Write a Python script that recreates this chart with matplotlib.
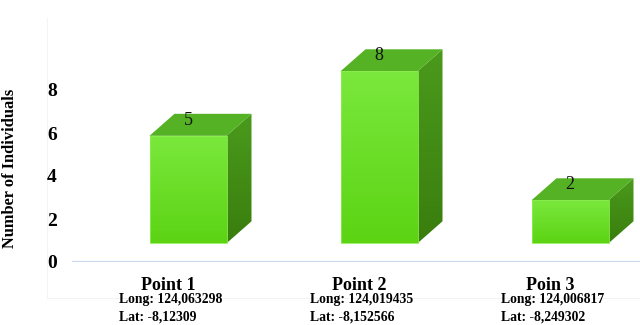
import numpy as np
import matplotlib
matplotlib.use("Agg")
import matplotlib.pyplot as plt
from matplotlib.patches import Polygon
from matplotlib.transforms import blended_transform_factory

categories = ["Point 1", "Point 2", "Poin 3"]
longs = ["Long: 124,063298", "Long: 124,019435", "Long: 124,006817"]
lats = ["Lat: -8,12309", "Lat: -8,152566", "Lat: -8,249302"]
values = [5, 8, 2]
yticks = [0, 2, 4, 6, 8]

W, H = 640, 325
fig = plt.figure(figsize=(6.4, 3.25), dpi=100)
ax_left, ax_right = 72 / W, 1.0
ax_bot, ax_top = 1 - 262 / H, 1 - 18 / H
ax = fig.add_axes([ax_left, ax_bot, ax_right - ax_left, ax_top - ax_bot])

px_per_unit = 21.5
spacing = 191.0
ax.set_xlim((72 - 168) / spacing, (640 - 168) / spacing)
ax.set_ylim(0, 244 / px_per_unit)

serif = "Liberation Serif"
off_x = 20 / spacing       # front face shift
half_w = 38.5 / spacing
depth_x = 25 / spacing
depth_y = 22 / px_per_unit
floor = 0.87

front_cmap = matplotlib.colors.LinearSegmentedColormap.from_list("f", ["#5cd414", "#7ae83c"])
side_cmap = matplotlib.colors.LinearSegmentedColormap.from_list("s", ["#3a7e0e", "#4a9a1c"])
grad = np.linspace(0, 1, 64).reshape(-1, 1)

for i, v in enumerate(values):
    x0 = i + off_x - half_w
    x1 = i + off_x + half_w
    y0 = floor
    y1 = floor + v
    side = Polygon([(x1, y0), (x1 + depth_x, y0 + depth_y), (x1 + depth_x, y1 + depth_y), (x1, y1)],
                   closed=True, facecolor="none", edgecolor="none")
    ax.add_patch(side)
    im = ax.imshow(grad, cmap=side_cmap, origin="lower", aspect="auto",
                   extent=(x1, x1 + depth_x, y0, y1 + depth_y), zorder=2)
    im.set_clip_path(side)
    top = Polygon([(x0, y1), (x1, y1), (x1 + depth_x, y1 + depth_y), (x0 + depth_x, y1 + depth_y)],
                  closed=True, facecolor="#54b224", edgecolor="none", zorder=3)
    ax.add_patch(top)
    bar = ax.bar(i + off_x, v, width=2 * half_w, bottom=floor, color="none",
                 edgecolor="#8cee50", linewidth=0.6, zorder=4)[0]
    im2 = ax.imshow(grad, cmap=front_cmap, origin="lower", aspect="auto",
                    extent=(x0, x1, y0, y1), zorder=3.5)
    im2.set_clip_path(bar)
    ax.text(i + off_x, y1 + depth_y + 0.1, str(v), ha="center", va="top",
            fontsize=13, family=serif, color="#111111", zorder=5)

ax.axhline(0, color="#c8d8f0", linewidth=1.6, zorder=1)

for s in ax.spines.values():
    s.set_visible(False)
ax.set_xticks([])
ax.set_yticks(yticks)
ax.set_yticklabels([str(t) for t in yticks], fontsize=14, fontweight="bold", family=serif)
ax.tick_params(axis="y", length=0, pad=11)
ax.set_ylabel("Number of Individuals", fontsize=11.8, fontweight="bold", family=serif)
ax.yaxis.set_label_coords((18 - 72) / (640 - 72), (262 - 168) / 244)

# faint chart-area borders
fig.add_artist(plt.Line2D([47 / W, 47 / W], [1 - 18 / H, 1 - 298 / H], color="#f3f3f3", lw=0.8, zorder=-5))
fig.add_artist(plt.Line2D([47 / W, 1], [1 - 298 / H, 1 - 298 / H], color="#f3f3f3", lw=0.8, zorder=-5))

tr = blended_transform_factory(ax.transData, fig.transFigure)
for i, (c, lo, la) in enumerate(zip(categories, longs, lats)):
    ax.text(i, 1 - 285 / H, c, transform=tr, ha="center", va="center",
            fontsize=13, fontweight="bold", family=serif, clip_on=False)
    ax.text(i - 0.255, 1 - 300 / H, lo, transform=tr, ha="left", va="center",
            fontsize=9.8, fontweight="bold", family=serif, clip_on=False)
    ax.text(i - 0.255, 1 - 317 / H, la, transform=tr, ha="left", va="center",
            fontsize=9.8, fontweight="bold", family=serif, clip_on=False)

fig.savefig("out.png", dpi=100)
